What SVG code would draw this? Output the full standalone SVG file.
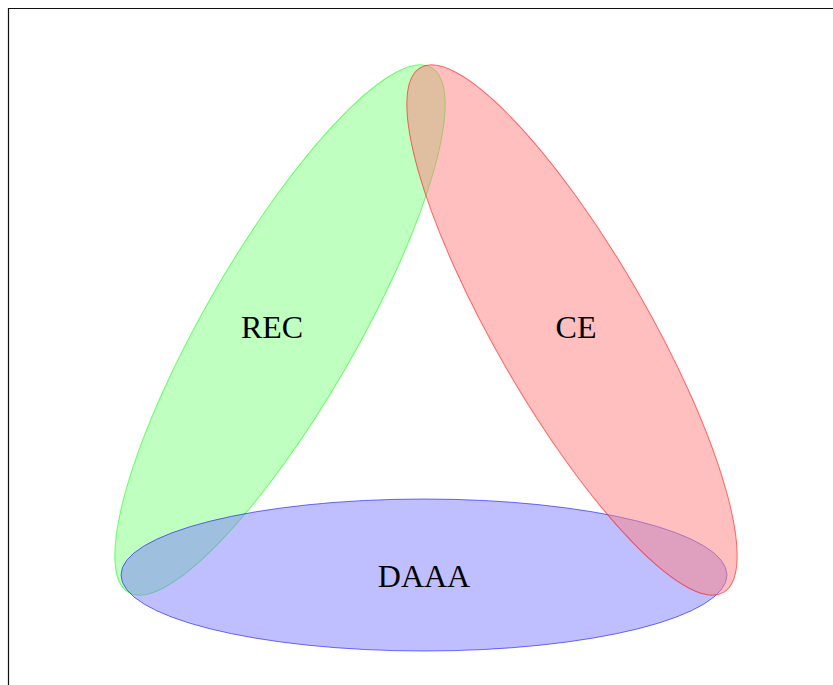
<svg xmlns="http://www.w3.org/2000/svg" width="833" height="685" viewBox="0 0 833 685">
<style>
.lbl{font-family:"Liberation Serif","DejaVu Serif",serif;font-size:32px;fill:#000;text-anchor:middle}
.e{fill-opacity:0.5;stroke-opacity:0.55;stroke-width:1}
</style>
<rect width="833" height="685" fill="#fff"/>
<path d="M8.5,685 V8.5 H833" fill="none" stroke="#111" stroke-width="1.2"/>
<g id="rec">
<ellipse class="e" cx="280" cy="330" rx="303" ry="76" transform="rotate(-60 280 330)" fill="#80ff80" stroke="#00ff00"/>
</g>
<g id="daaa">
<ellipse class="e" cx="424" cy="575" rx="303" ry="76" fill="#8080ff" stroke="#0000ff"/>
</g>
<g id="ce">
<ellipse class="e" cx="572" cy="330" rx="303" ry="76" transform="rotate(60 572 330)" fill="#ff8080" stroke="#ff0000"/>
</g>
<g id="labels">
<text class="lbl" x="272" y="338">REC</text>
<text class="lbl" x="576" y="338">CE</text>
<text class="lbl" x="424" y="587">DAAA</text>
</g>
<g id="connectors"/>
</svg>
